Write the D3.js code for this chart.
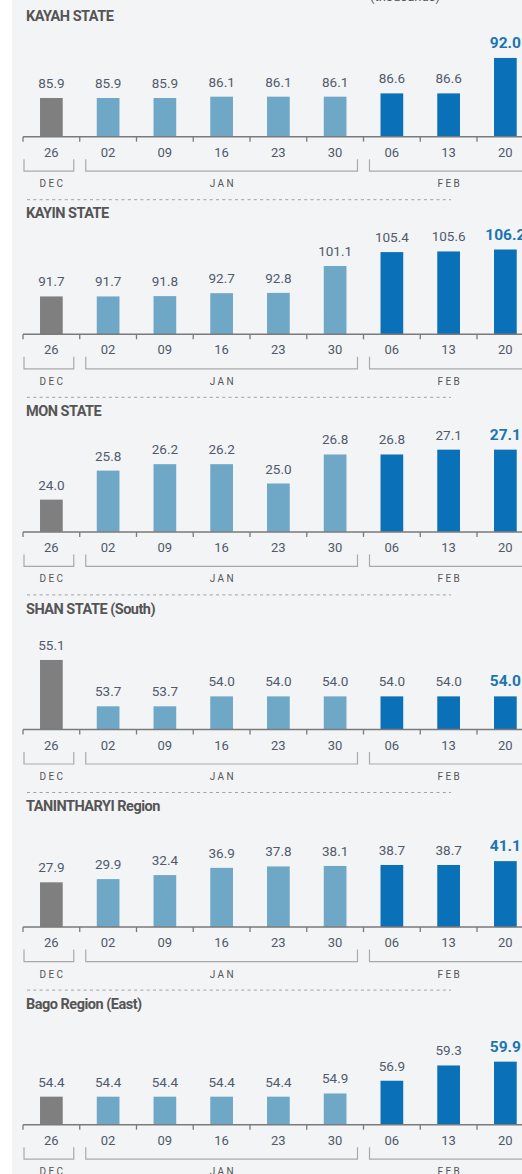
<!DOCTYPE html>
<html>
<head>
<meta charset="utf-8">
<script src="https://cdn.jsdelivr.net/npm/d3@7"></script>
<style>
  html, body { margin: 0; padding: 0; background: #ffffff; }
  svg { display: block; font-family: Roboto, "Open Sans", sans-serif; }
</style>
</head>
<body>
<div id="chart"></div>
<script>
// weekly figures, thousands
const weeks = ["26", "02", "09", "16", "23", "30", "06", "13", "20"]
const weekMonth = ["DEC", "JAN", "JAN", "JAN", "JAN", "JAN", "FEB", "FEB", "FEB"]
const months = ["DEC", "JAN", "FEB"]
const regions = ["KAYAH STATE", "KAYIN STATE", "MON STATE", "SHAN STATE (South)", "TANINTHARYI Region", "Bago Region (East)"]

const kayah = [85.9, 85.9, 85.9, 86.1, 86.1, 86.1, 86.6, 86.6, 92.0]
const kayin = [91.7, 91.7, 91.8, 92.7, 92.8, 101.1, 105.4, 105.6, 106.2]
const mon = [24.0, 25.8, 26.2, 26.2, 25.0, 26.8, 26.8, 27.1, 27.1]
const shan = [55.1, 53.7, 53.7, 54.0, 54.0, 54.0, 54.0, 54.0, 54.0]
const tanintharyi = [27.9, 29.9, 32.4, 36.9, 37.8, 38.1, 38.7, 38.7, 41.1]
const bago = [54.4, 54.4, 54.4, 54.4, 54.4, 54.9, 56.9, 59.3, 59.9]

// each panel has its own (non-zero) baseline
const yDomains = [[80, 95.24], [80, 110.9], [22, 28.2], [53, 56.02], [0, 62.3], [50, 65.7]]

const series = [kayah, kayin, mon, shan, tanintharyi, bago]
const monthColor = { DEC: "#7f7f7f", JAN: "#6fa8c7", FEB: "#0a70b7" }

const W = 522, H = 1174
const firstAxis = 136.7, panelStep = 197.6, barZone = 100
const step = 56.75

const svg = d3.select("#chart").append("svg")
  .attr("width", W)
  .attr("height", H)

svg.append("rect").attr("x", 12).attr("y", 0)
  .attr("width", W - 12).attr("height", H)
  .attr("fill", "#f3f4f6")

svg.append("text")
  .attr("x", 405).attr("y", 1)
  .attr("text-anchor", "middle")
  .attr("font-size", 13)
  .attr("fill", "#555")
  .text("(thousands)")

const cell = d3.scaleBand()
  .domain(weeks.map((d, i) => i))
  .range([23, 23 + step * weeks.length])
  .padding(0)

regions.forEach((name, p) => {
  const data = series[p]
  const base = firstAxis + p * panelStep
  const g = svg.append("g")

  const y = d3.scaleLinear()
    .domain(yDomains[p])
    .range([base, base - barZone])

  g.append("text")
    .attr("x", 26).attr("y", base - 116)
    .attr("font-size", 14.5)
    .attr("font-weight", 700)
    .attr("letter-spacing", "-0.5px")
    .attr("fill", "#555555")
    .text(name)

  g.selectAll(".bar").data(data).enter()
    .append("rect")
    .attr("class", "bar")
    .attr("x", (d, i) => cell(i) + cell.bandwidth() * 0.3)
    .attr("width", cell.bandwidth() * 0.4)
    .attr("y", d => y(d))
    .attr("height", d => base - y(d))
    .attr("fill", (d, i) => monthColor[weekMonth[i]])

  g.selectAll(".val").data(data).enter()
    .append("text")
    .attr("class", "val")
    .attr("x", (d, i) => cell(i) + cell.bandwidth() / 2)
    .attr("y", d => y(d) - 10)
    .attr("text-anchor", "middle")
    .attr("font-size", (d, i) => i === data.length - 1 ? 15.5 : 13.5)
    .attr("font-weight", (d, i) => i === data.length - 1 ? 700 : 400)
    .attr("fill", (d, i) => i === data.length - 1 ? "#1c75b2" : "#505a6b")
    .text(d => d.toFixed(1))

  // axis line + boundary ticks
  g.append("line")
    .attr("x1", cell.range()[0]).attr("x2", W)
    .attr("y1", base).attr("y2", base)
    .attr("stroke", "#7a7a7a").attr("stroke-width", 1.5)

  g.selectAll(".tick").data(weeks).enter()
    .append("line")
    .attr("x1", (d, i) => cell(i)).attr("x2", (d, i) => cell(i))
    .attr("y1", base).attr("y2", base + 5)
    .attr("stroke", "#7a7a7a").attr("stroke-width", 1.3)

  g.selectAll(".wk").data(weeks).enter()
    .append("text")
    .attr("x", (d, i) => cell(i) + cell.bandwidth() / 2)
    .attr("y", base + 20)
    .attr("text-anchor", "middle")
    .attr("font-size", 13)
    .attr("fill", "#4f5968")
    .text(d => d)

  // month brackets
  months.forEach((m, mi) => {
    const idx = weekMonth.map((w, i) => w === m ? i : -1).filter(i => i >= 0)
    const s = cell(idx[0]), e = cell(idx[idx.length - 1]) + cell.bandwidth()
    const x0 = mi === 0 ? s + 1 : s + 6
    const x1 = e - 6
    g.append("path")
      .attr("d", `M${x0},${base + 22.5}V${base + 34.5}H${x1}V${base + 22.5}`)
      .attr("fill", "none")
      .attr("stroke", "#a9a9a9")
      .attr("stroke-width", 1.2)
    g.append("text")
      .attr("x", (s + e) / 2 + 1.2)
      .attr("y", base + 50.5)
      .attr("text-anchor", "middle")
      .attr("font-size", 10)
      .attr("letter-spacing", "2.4px")
      .attr("fill", "#555")
      .text(m)
  })

  g.append("line")
    .attr("x1", 27).attr("x2", 451)
    .attr("y1", base + 63).attr("y2", base + 63)
    .attr("stroke", "#a0a0a0")
    .attr("stroke-width", 1)
    .attr("stroke-dasharray", "3,3.3")
})
</script>
</body>
</html>
